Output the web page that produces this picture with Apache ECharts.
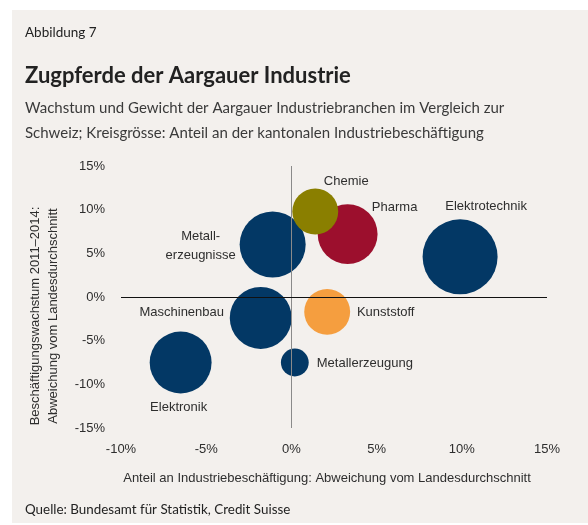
<!DOCTYPE html>
<html>
<head>
<meta charset="utf-8">
<script src="https://cdn.jsdelivr.net/npm/echarts@6/dist/echarts.min.js"></script>
<style>
html,body{margin:0;padding:0;background:#ffffff;}
#chart{width:588px;height:525px;}
</style>
</head>
<body>
<div id="chart"></div>
<script>
// ---- data ----
var branches = ['Elektrotechnik','Metallerzeugnisse','Maschinenbau','Elektronik','Pharma','Kunststoff','Metallerzeugung','Chemie'];
var shareDeviation = [9.9, -1.1, -1.8, -6.5, 3.3, 2.1, 0.2, 1.4];      // x: Anteil an Industriebeschäftigung, Abweichung (%)
var growthDeviation = [4.6, 6.0, -2.4, -7.5, 7.2, -1.7, -7.5, 9.8];     // y: Beschäftigungswachstum 2011–2014, Abweichung (%)
var cantonalShare = [16.0, 12.4, 10.9, 10.9, 10.2, 6.0, 2.2, 6.0];      // Kreisgrösse: Anteil an kantonaler Industriebeschäftigung (%)
var xTicks = [-10, -5, 0, 5, 10, 15];
var yTicks = [-15, -10, -5, 0, 5, 10, 15];

// ---- styles ----
var colorOf = {
  'Elektrotechnik':'#033865','Metallerzeugnisse':'#033865','Maschinenbau':'#033865',
  'Elektronik':'#033865','Metallerzeugung':'#033865',
  'Pharma':'#9c0f2d','Kunststoff':'#f59e3f','Chemie':'#8a7f00'
};
var labelText = {'Metallerzeugnisse':'Metall-\nerzeugnisse'};
var labelOffset = {
  'Chemie':[31,-30],'Pharma':[47,-27],'Elektrotechnik':[26,-50],
  'Metallerzeugnisse':[-72,1.5],'Maschinenbau':[-79,-5.5],'Elektronik':[-2,44.5],
  'Kunststoff':[58.5,0.5],'Metallerzeugung':[70,1]
};
var sizeScale = 18.75;
var txt = '#2e2e2e';
var axisFont = 'Liberation Sans, Arial, sans-serif';
var headFont = 'Lato, "Open Sans", sans-serif';

var points = branches.map(function(n,i){
  return {
    name:n,
    value:[shareDeviation[i], growthDeviation[i], cantonalShare[i]],
    itemStyle:{color:colorOf[n]},
    label:{offset:labelOffset[n]}
  };
});

var chart = echarts.init(document.getElementById('chart'), null, {renderer:'canvas'});
chart.setOption({
  animation:false,
  backgroundColor:'transparent',
  graphic:[
    {type:'rect', z:-10, shape:{x:12,y:10,width:576,height:513}, style:{fill:'#f3f0ed'}},
    {type:'text', left:25, top:26, style:{text:'Abbildung 7', font:'13.5px '+headFont, fill:'#222'}},
    {type:'text', left:25, top:65, style:{text:'Zugpferde der Aargauer Industrie', font:'bold 22px '+headFont, fill:'#222'}},
    {type:'text', left:25, top:96, style:{text:'Wachstum und Gewicht der Aargauer Industriebranchen im Vergleich zur\nSchweiz; Kreisgrösse: Anteil an der kantonalen Industriebeschäftigung', font:'15px '+headFont, lineHeight:25, fill:'#3a3a3a'}},
    {type:'text', left:25, top:503, style:{text:'Quelle: Bundesamt für Statistik, Credit Suisse', font:'13.4px '+headFont, fill:'#222'}},
    {type:'text', x:327, y:478, style:{text:'Anteil an Industriebeschäftigung: Abweichung vom Landesdurchschnitt', font:'13px '+axisFont, fill:txt, align:'center', verticalAlign:'middle'}},
    {type:'text', x:44, y:316, rotation:Math.PI/2, style:{text:'Beschäftigungswachstum 2011–2014:\nAbweichung vom Landesdurchschnitt', font:'13px '+axisFont, lineHeight:18, fill:txt, align:'center', verticalAlign:'middle'}}
  ],
  grid:{left:121, right:41, top:166, bottom:97, containLabel:false},
  xAxis:{
    type:'value', min:xTicks[0], max:xTicks[xTicks.length-1], interval:5,
    axisLine:{show:false}, axisTick:{show:false}, splitLine:{show:false},
    axisLabel:{formatter:'{value}%', color:txt, fontFamily:axisFont, fontSize:13, margin:15}
  },
  yAxis:{
    type:'value', min:yTicks[0], max:yTicks[yTicks.length-1], interval:5,
    axisLine:{show:false}, axisTick:{show:false}, splitLine:{show:false},
    axisLabel:{formatter:'{value}%', color:txt, fontFamily:axisFont, fontSize:13, margin:16}
  },
  series:[
    {
      type:'line', data:[], z:1, silent:true,
      markLine:{
        silent:true, symbol:['none','none'], label:{show:false},
        data:[
          {xAxis:0, lineStyle:{color:'#8a8a8a', width:1, type:'solid'}},
          {yAxis:0, lineStyle:{color:'#111', width:1, type:'solid'}}
        ]
      }
    },
    {
      type:'scatter', z:3,
      data:points,
      symbolSize:function(v){ return Math.sqrt(v[2])*sizeScale; },
      itemStyle:{opacity:1},
      label:{
        show:true, position:'inside', align:'center', verticalAlign:'middle',
        color:txt, fontFamily:axisFont, fontSize:13, lineHeight:19,
        formatter:function(p){ return labelText[p.name] || p.name; }
      },
      emphasis:{disabled:true}
    }
  ]
});
</script>
</body>
</html>
